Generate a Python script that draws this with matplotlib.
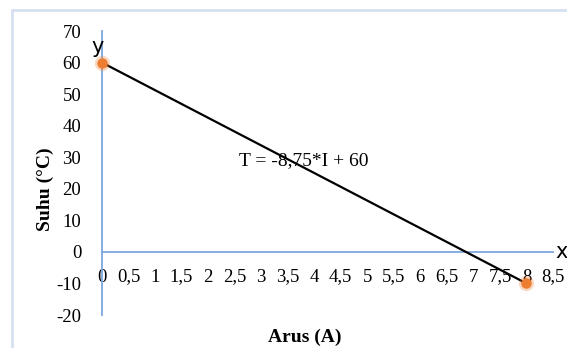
import numpy as np
from matplotlib import pyplot as plt
from matplotlib.patches import Rectangle
from matplotlib.ticker import FuncFormatter

arus = [0, 8]
suhu = [60, -10]
x_ticks = np.arange(0, 9, 0.5)
y_ticks = np.arange(-20, 80, 10)
equation = 'T = -8,75*I + 60'

axis_blue = '#7DA7DD'
orange = '#ED7D31'
serif = ['Liberation Serif', 'DejaVu Serif']
plt.rcParams['axes.unicode_minus'] = False


def comma(v, pos):
    s = ('%g' % v).replace('.', ',')
    return s


def main():
    fig = plt.figure(figsize=(5.67, 3.48), dpi=100)
    # outer chart frame
    fig.patches.append(Rectangle(
        (12 / 567, -0.05), 1.0, 1.05 - 10 / 348,
        transform=fig.transFigure, fill=False,
        edgecolor='#D5E0F0', linewidth=2))

    ax = fig.add_axes([102 / 567, 33 / 348, 451 / 567, 284 / 348])
    ax.set_xlim(0, 8.5)
    ax.set_ylim(-20, 70)
    ax.patch.set_alpha(0)

    for s in ['top', 'right']:
        ax.spines[s].set_visible(False)
    ax.spines['bottom'].set_position(('data', 0))
    ax.spines['bottom'].set_color(axis_blue)
    ax.spines['left'].set_color(axis_blue)
    ax.spines['bottom'].set_linewidth(1.3)
    ax.spines['left'].set_linewidth(1.3)

    ax.set_xticks(x_ticks)
    ax.set_yticks(y_ticks)
    ax.xaxis.set_major_formatter(FuncFormatter(comma))
    ax.tick_params(axis='x', length=0, pad=12)
    ax.tick_params(axis='y', length=0, pad=15)
    for lab in ax.get_xticklabels() + ax.get_yticklabels():
        lab.set_family(serif)
        lab.set_fontsize(13.5)

    ax.plot(arus, suhu, color='black', linewidth=1.6, zorder=3)
    ax.plot(arus, suhu, linestyle='none', marker='o', markersize=11,
            color=orange, alpha=0.3, clip_on=False, zorder=4,
            markeredgewidth=0)
    ax.plot(arus, suhu, linestyle='none', marker='o', markersize=7.5,
            color=orange, clip_on=False, zorder=5, markeredgewidth=0)

    ax.text(3.8, 29, equation, family=serif, fontsize=14,
            ha='center', va='center')
    ax.text(-0.09, 65, 'y', fontsize=15, ha='center', va='center')
    ax.text(8.66, 0, 'x', fontsize=15, ha='center', va='center',
            clip_on=False)

    fig.text(45 / 567, 1 - 189 / 348, 'Suhu (°C)', family=serif,
             fontsize=14, fontweight='bold', rotation=90,
             ha='center', va='center')
    fig.text(305 / 567, 1 - 337 / 348, 'Arus (A)', family=serif,
             fontsize=14, fontweight='bold', ha='center', va='center')

    fig.savefig('out.png', dpi=100)


if __name__ == '__main__':
    main()
